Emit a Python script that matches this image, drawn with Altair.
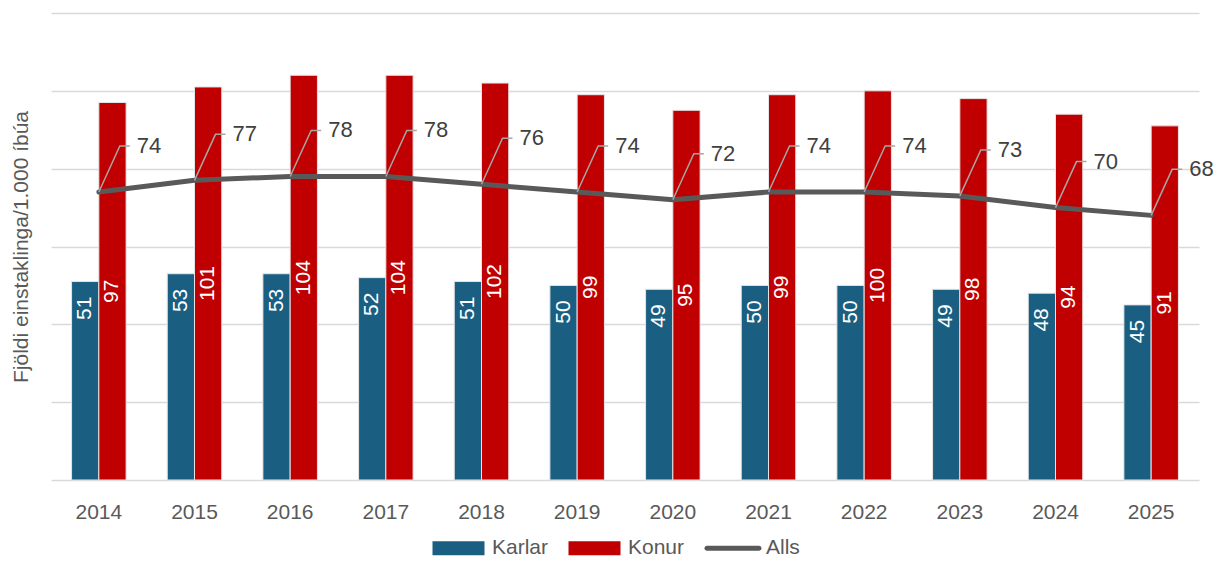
import altair as alt
import pandas as pd

years = ["2014", "2015", "2016", "2017", "2018", "2019", "2020", "2021", "2022", "2023", "2024", "2025"]
karlar = [51, 53, 53, 52, 51, 50, 49, 50, 50, 49, 48, 45]
konur = [97, 101, 104, 104, 102, 99, 95, 99, 100, 98, 94, 91]
alls = [74, 77, 78, 78, 76, 74, 72, 74, 74, 73, 70, 68]

series_names = ["Karlar", "Konur", "Alls"]
series_colors = ["#1a5f82", "#c00000", "#595959"]
y_ticks = [0, 20, 40, 60, 80, 100, 120]
y_title = "Fjöldi einstaklinga/1.000 íbúa"

FONT = "Liberation Sans"

bars_df = pd.DataFrame({
    "year": years * 2,
    "series": ["Karlar"] * len(years) + ["Konur"] * len(years),
    "value": karlar + konur,
})
line_df = pd.DataFrame({"year": years, "value": alls})
legend_df = pd.DataFrame({"series": series_names})

x_enc = alt.X(
    "year:N", sort=years,
    scale=alt.Scale(paddingInner=0.43, paddingOuter=0.215),
    axis=alt.Axis(title=None, labelAngle=0, labelFont=FONT, labelFontSize=21,
                  labelColor="#595959", labelPadding=38, labelBaseline="alphabetic",
                  ticks=False, tickSize=0, domain=False, grid=False),
)
y_scale = alt.Scale(domain=[0, 120], nice=False, zero=True)
y_axis = alt.Axis(
    title=y_title, values=y_ticks, labels=False, ticks=False, domain=False,
    grid=True, gridColor="#d9d9d9", gridWidth=1.5,
    titleFont=FONT, titleFontSize=21, titleColor="#595959", titleFontWeight="normal",
    titleX=-29.5, titleY=233.5, titleAngle=270, titleAlign="center", titleBaseline="middle",
)
xoff = alt.XOffset("series:N", scale=alt.Scale(domain=["Karlar", "Konur"], paddingInner=0, paddingOuter=0))
color_scale = alt.Scale(domain=series_names, range=series_colors)


def bar_layer(name, color):
    return alt.Chart(bars_df).transform_filter(
        alt.datum.series == name
    ).mark_bar(color=color, stroke="#e4e4e4", strokeWidth=1).encode(
        x=x_enc,
        xOffset=xoff,
        y=alt.Y("value:Q", scale=y_scale, axis=y_axis),
    )


bars_k = bar_layer("Karlar", series_colors[0])
bars_w = bar_layer("Konur", series_colors[1])

karlar_labels = alt.Chart(bars_df).transform_filter(
    alt.datum.series == "Karlar"
).mark_text(angle=270, align="right", baseline="middle", dx=-15,
            font=FONT, fontSize=21, color="white").encode(
    x=x_enc, xOffset=xoff,
    y=alt.Y("value:Q", scale=y_scale),
    text=alt.Text("value:Q"),
)

konur_labels = alt.Chart(bars_df).transform_filter(
    alt.datum.series == "Konur"
).transform_calculate(
    mid="datum.value / 2"
).mark_text(angle=270, align="center", baseline="middle",
            font=FONT, fontSize=21, color="white").encode(
    x=x_enc, xOffset=xoff,
    y=alt.Y("mid:Q", scale=y_scale),
    text=alt.Text("value:Q"),
)

line = alt.Chart(line_df).mark_line(color=series_colors[2], strokeWidth=5,
                                    strokeCap="round", strokeJoin="round").encode(
    x=x_enc,
    y=alt.Y("value:Q", scale=y_scale),
)

leaders = alt.Chart(line_df).mark_point(
    shape="M0,0L21,-46L31,-46", size=4, filled=False, fill="transparent",
    stroke="#a6a6a6", strokeWidth=1.5, opacity=1,
).encode(
    x=x_enc,
    y=alt.Y("value:Q", scale=y_scale),
)

line_labels = alt.Chart(line_df).mark_text(
    align="left", baseline="middle", dx=38, dy=-46,
    font=FONT, fontSize=22, color="#404040",
).encode(
    x=x_enc,
    y=alt.Y("value:Q", scale=y_scale),
    text=alt.Text("value:Q"),
)

# legend symbols (symbolSize 256 -> 8px per path unit)
rect_path = "M-3.25,-0.875H3.25V0.875H-3.25Z"
line_path = "M-3.19,-0.3125H3.31A0.3125,0.3125,0,0,1,3.31,0.3125H-3.19A0.3125,0.3125,0,0,1,-3.19,-0.3125Z"

legend_props = dict(
    title=None, orient="none", legendX=397, legendY=524.5, direction="horizontal",
    labelFont=FONT, labelFontSize=21, labelColor="#595959", labelOffset=23,
    columnPadding=19, symbolSize=256, symbolStrokeWidth=0, padding=0,
    symbolOpacity=1, gridAlign="each",
)

legend_layer = alt.Chart(legend_df).mark_point(filled=True, size=256, opacity=0).encode(
    color=alt.Color("series:N", scale=color_scale, legend=alt.Legend(**legend_props)),
    shape=alt.Shape("series:N", scale=alt.Scale(domain=series_names,
                                                range=[rect_path, rect_path, line_path]),
                    legend=alt.Legend(**legend_props)),
)

chart = alt.layer(
    legend_layer, bars_k, bars_w, karlar_labels, konur_labels, line, leaders, line_labels
).properties(
    width=1148, height=467,
    padding={"left": 43, "top": 5, "right": 15, "bottom": 78},
    autosize="none",
).configure_view(stroke=None)

chart.save("out.html", embed_options={"renderer": "svg", "actions": False})
